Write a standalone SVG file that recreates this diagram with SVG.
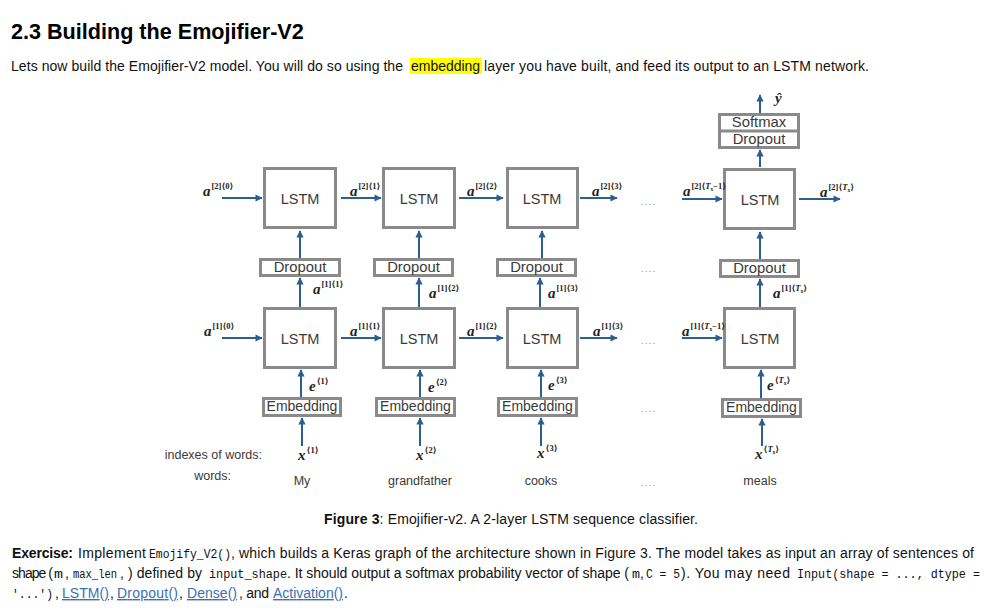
<svg xmlns="http://www.w3.org/2000/svg" width="1008" height="610" viewBox="0 0 1008 610">
<defs>
<marker id="ah" viewBox="0 0 10 10" refX="9" refY="5" markerWidth="4" markerHeight="3.6" orient="auto">
<path d="M0,0 L10,5 L0,10 z" fill="#2c5f8f"/>
</marker>
<style>
.body{font-family:"Liberation Sans",Arial,sans-serif;font-size:14px;fill:#111}
.mono{font-family:"Liberation Mono","Courier New",monospace;font-size:12.5px;fill:#111}
.link{fill:#3b6fb0;text-decoration:underline}
.box{fill:#fff;stroke:#8a8a8a;stroke-width:3}
.lbl{font-family:"Liberation Sans",Arial,sans-serif;fill:#3a3a3a;text-anchor:middle}
.big{font-size:14.5px}
.emb{font-size:14px}
.mid{font-size:14.8px}
.word{font-family:"Liberation Sans",Arial,sans-serif;font-size:12.5px;fill:#3a3a3a}
.math{font-family:"Liberation Serif","DejaVu Serif",serif;font-weight:bold;font-style:italic;font-size:15px;fill:#222}
.sup{font-size:8.5px;font-style:normal}
.sub{font-size:5.5px}
.dots{font-family:"Liberation Sans",Arial,sans-serif;font-size:10px;fill:#9a9a9a;letter-spacing:1px}
.arrow{stroke:#2c5f8f;stroke-width:2;fill:none;marker-end:url(#ah)}
</style>
</defs>
<rect width="1008" height="610" fill="#fff"/>

<!-- Header text -->
<text x="11" y="39" font-family="Liberation Sans, Arial, sans-serif" font-size="21.6" font-weight="bold" fill="#000">2.3 Building the Emojifier-V2</text>
<rect x="410" y="58" width="72" height="16" fill="#ffff00"/>
<text class="body" x="11" y="71" textLength="392" lengthAdjust="spacing">Lets now build the Emojifier-V2 model. You will do so using the</text>
<text class="body" x="411" y="71" textLength="69" lengthAdjust="spacing">embedding</text>
<text class="body" x="484" y="71" textLength="385" lengthAdjust="spacing">layer you have built, and feed its output to an LSTM network.</text>

<!-- Nodes: layer 2 LSTMs -->
<g id="lstm2-1"><rect class="box" x="264.5" y="168.5" width="71" height="59"/><text class="lbl big" x="300" y="204">LSTM</text></g>
<g id="lstm2-2"><rect class="box" x="383.5" y="168.5" width="71" height="59"/><text class="lbl big" x="419" y="204">LSTM</text></g>
<g id="lstm2-3"><rect class="box" x="507.5" y="168.5" width="70" height="59"/><text class="lbl big" x="542" y="204">LSTM</text></g>
<g id="lstm2-4"><rect class="box" x="724.5" y="169.5" width="70" height="59"/><text class="lbl big" x="760" y="205">LSTM</text></g>

<!-- Softmax / Dropout -->
<g id="softmax"><rect class="box" x="719.5" y="114.5" width="79" height="33"/><line x1="719.5" y1="131" x2="798.5" y2="131" stroke="#8a8a8a" stroke-width="3"/><text class="lbl mid" x="759" y="127">Softmax</text><text class="lbl mid" x="759" y="143.5">Dropout</text></g>

<!-- Dropout layer -->
<g id="dropout-1"><rect class="box" x="260.5" y="259.5" width="79" height="16"/><text class="lbl mid" x="300" y="272">Dropout</text></g>
<g id="dropout-2"><rect class="box" x="374.5" y="259.5" width="78" height="16"/><text class="lbl mid" x="413.5" y="272">Dropout</text></g>
<g id="dropout-3"><rect class="box" x="497.5" y="259.5" width="78" height="16"/><text class="lbl mid" x="536.5" y="272">Dropout</text></g>
<g id="dropout-4"><rect class="box" x="720.5" y="260.5" width="78" height="16"/><text class="lbl mid" x="759.5" y="273">Dropout</text></g>

<!-- layer 1 LSTMs -->
<g id="lstm1-1"><rect class="box" x="264.5" y="308.5" width="71" height="59"/><text class="lbl big" x="300" y="344">LSTM</text></g>
<g id="lstm1-2"><rect class="box" x="383.5" y="308.5" width="71" height="59"/><text class="lbl big" x="419" y="344">LSTM</text></g>
<g id="lstm1-3"><rect class="box" x="507.5" y="308.5" width="70" height="59"/><text class="lbl big" x="542" y="344">LSTM</text></g>
<g id="lstm1-4"><rect class="box" x="724.5" y="308.5" width="70" height="59"/><text class="lbl big" x="760" y="344">LSTM</text></g>

<!-- Embedding -->
<g id="emb-1"><rect class="box" x="263.5" y="398.5" width="77" height="17"/><text class="lbl emb" x="302" y="411">Embedding</text></g>
<g id="emb-2"><rect class="box" x="376.5" y="398.5" width="78" height="17"/><text class="lbl emb" x="415.5" y="411">Embedding</text></g>
<g id="emb-3"><rect class="box" x="498.5" y="398.5" width="78" height="17"/><text class="lbl emb" x="537.5" y="411">Embedding</text></g>
<g id="emb-4"><rect class="box" x="722.5" y="399.5" width="78" height="17"/><text class="lbl emb" x="761.5" y="412">Embedding</text></g>

<!-- Connectors -->
<g id="connectors">
<path class="arrow" d="M222,198 H262"/>
<path class="arrow" d="M341,198 H381"/>
<path class="arrow" d="M459,198 H503"/>
<path class="arrow" d="M580,198 H617"/>
<path class="arrow" d="M682,199 H722"/>
<path class="arrow" d="M799,199 H840"/>
<path class="arrow" d="M222,338 H262"/>
<path class="arrow" d="M341,338 H381"/>
<path class="arrow" d="M459,338 H503"/>
<path class="arrow" d="M580,338 H617"/>
<path class="arrow" d="M682,338 H722"/>
<path class="arrow" d="M300,258 V231"/>
<path class="arrow" d="M419,258 V231"/>
<path class="arrow" d="M542,258 V231"/>
<path class="arrow" d="M760,259 V232"/>
<path class="arrow" d="M300,307 V278"/>
<path class="arrow" d="M419,307 V278"/>
<path class="arrow" d="M540,307 V278"/>
<path class="arrow" d="M760,307 V279"/>
<path class="arrow" d="M301,397 V370"/>
<path class="arrow" d="M420,397 V370"/>
<path class="arrow" d="M541,397 V370"/>
<path class="arrow" d="M761,398 V370"/>
<path class="arrow" d="M302,446 V418"/>
<path class="arrow" d="M420,446 V418"/>
<path class="arrow" d="M541,446 V418"/>
<path class="arrow" d="M762,446 V419"/>
<path class="arrow" d="M760,167 V150"/>
<path class="arrow" d="M760,113 V95"/>
</g>

<!-- Math labels -->
<g id="labels">
<text class="math" x="775" y="103" font-weight="normal">ŷ</text>
<text class="math" x="203" y="196">a<tspan class="sup" dx="1" dy="-7">[2]⟨0⟩</tspan></text>
<text class="math" x="350" y="196">a<tspan class="sup" dx="1" dy="-7">[2]⟨1⟩</tspan></text>
<text class="math" x="467" y="196">a<tspan class="sup" dx="1" dy="-7">[2]⟨2⟩</tspan></text>
<text class="math" x="592" y="196">a<tspan class="sup" dx="1" dy="-7">[2]⟨3⟩</tspan></text>
<text class="math" x="683" y="196">a<tspan class="sup" dx="1" dy="-7">[2]⟨<tspan font-style="italic">T</tspan><tspan class="sub" dy="1.5">x</tspan><tspan dy="-1.5">−1⟩</tspan></tspan></text>
<text class="math" x="820" y="197">a<tspan class="sup" dx="1" dy="-7">[2]⟨<tspan font-style="italic">T</tspan><tspan class="sub" dy="1.5">x</tspan><tspan dy="-1.5">⟩</tspan></tspan></text>

<text class="math" x="313" y="294">a<tspan class="sup" dx="1" dy="-7">[1]⟨1⟩</tspan></text>
<text class="math" x="429" y="298">a<tspan class="sup" dx="1" dy="-7">[1]⟨2⟩</tspan></text>
<text class="math" x="548" y="298">a<tspan class="sup" dx="1" dy="-7">[1]⟨3⟩</tspan></text>
<text class="math" x="773" y="298">a<tspan class="sup" dx="1" dy="-7">[1]⟨<tspan font-style="italic">T</tspan><tspan class="sub" dy="1.5">x</tspan><tspan dy="-1.5">⟩</tspan></tspan></text>

<text class="math" x="204" y="336">a<tspan class="sup" dx="1" dy="-7">[1]⟨0⟩</tspan></text>
<text class="math" x="350" y="336">a<tspan class="sup" dx="1" dy="-7">[1]⟨1⟩</tspan></text>
<text class="math" x="467" y="336">a<tspan class="sup" dx="1" dy="-7">[1]⟨2⟩</tspan></text>
<text class="math" x="593" y="336">a<tspan class="sup" dx="1" dy="-7">[1]⟨3⟩</tspan></text>
<text class="math" x="682" y="336">a<tspan class="sup" dx="1" dy="-7">[1]⟨<tspan font-style="italic">T</tspan><tspan class="sub" dy="1.5">x</tspan><tspan dy="-1.5">−1⟩</tspan></tspan></text>

<text class="math" x="309" y="391">e<tspan class="sup" dx="1" dy="-7">⟨1⟩</tspan></text>
<text class="math" x="428" y="392">e<tspan class="sup" dx="1" dy="-7">⟨2⟩</tspan></text>
<text class="math" x="548" y="390">e<tspan class="sup" dx="1" dy="-7">⟨3⟩</tspan></text>
<text class="math" x="767" y="390">e<tspan class="sup" dx="1" dy="-7">⟨<tspan font-style="italic">T</tspan><tspan class="sub" dy="1.5">x</tspan><tspan dy="-1.5">⟩</tspan></tspan></text>

<text class="math" x="298" y="460">x<tspan class="sup" dx="1" dy="-7">⟨1⟩</tspan></text>
<text class="math" x="416" y="460">x<tspan class="sup" dx="1" dy="-7">⟨2⟩</tspan></text>
<text class="math" x="537" y="458">x<tspan class="sup" dx="1" dy="-7">⟨3⟩</tspan></text>
<text class="math" x="755" y="459">x<tspan class="sup" dx="1" dy="-7">⟨<tspan font-style="italic">T</tspan><tspan class="sub" dy="1.5">x</tspan><tspan dy="-1.5">⟩</tspan></tspan></text>

<text class="word" x="262" y="459" text-anchor="end">indexes of words:</text>
<text class="word" x="231" y="480" text-anchor="end">words:</text>
<text class="word" x="302" y="485" text-anchor="middle">My</text>
<text class="word" x="420" y="485" text-anchor="middle">grandfather</text>
<text class="word" x="541" y="485" text-anchor="middle">cooks</text>
<text class="word" x="760" y="485" text-anchor="middle">meals</text>

<text class="dots" x="641" y="205">....</text>
<text class="dots" x="641" y="272">....</text>
<text class="dots" x="641" y="344">....</text>
<text class="dots" x="641" y="412">....</text>
<text class="dots" x="641" y="486">....</text>
</g>

<!-- Caption and exercise -->
<text class="body" x="324" y="524" textLength="374" lengthAdjust="spacing"><tspan font-weight="bold">Figure 3</tspan>: Emojifier-v2. A 2-layer LSTM sequence classifier.</text>

<text class="body" x="12" y="558" font-weight="bold" textLength="61" lengthAdjust="spacing">Exercise:</text>
<text class="body" x="78" y="558" textLength="68" lengthAdjust="spacing">Implement</text>
<text class="mono" x="149" y="558" textLength="82" lengthAdjust="spacingAndGlyphs">Emojify_V2()</text>
<text class="body" x="231" y="558" textLength="743" lengthAdjust="spacing">, which builds a Keras graph of the architecture shown in Figure 3. The model takes as input an array of sentences of</text>

<text class="body" x="12" y="578" textLength="41" lengthAdjust="spacing">shape (</text>
<text class="mono" x="54" y="578" textLength="9" lengthAdjust="spacingAndGlyphs">m</text>
<text class="body" x="65" y="578">,</text>
<text class="mono" x="73" y="578" textLength="44" lengthAdjust="spacingAndGlyphs">max_len</text>
<text class="body" x="120" y="578" textLength="82" lengthAdjust="spacing">, ) defined by</text>
<text class="mono" x="209" y="578" textLength="78" lengthAdjust="spacingAndGlyphs">input_shape</text>
<text class="body" x="287" y="578" textLength="342" lengthAdjust="spacing">. It should output a softmax probability vector of shape (</text>
<text class="mono" x="632" y="578" textLength="8" lengthAdjust="spacingAndGlyphs">m</text>
<text class="body" x="640" y="578">,</text>
<text class="mono" x="646" y="578" textLength="34" lengthAdjust="spacingAndGlyphs">C = 5</text>
<text class="body" x="681" y="578" textLength="109" lengthAdjust="spacing">). You may need</text>
<text class="mono" x="797" y="578" textLength="183" lengthAdjust="spacingAndGlyphs">Input(shape = ..., dtype =</text>

<text class="mono" x="12" y="598" textLength="41" lengthAdjust="spacingAndGlyphs">'...')</text>
<text class="body" x="55" y="598">,</text>
<text class="body link" x="62" y="598" textLength="47" lengthAdjust="spacing">LSTM()</text>
<text class="body" x="110" y="598">,</text>
<text class="body link" x="117" y="598" textLength="61" lengthAdjust="spacing">Dropout()</text>
<text class="body" x="179" y="598">,</text>
<text class="body link" x="187" y="598" textLength="50" lengthAdjust="spacing">Dense()</text>
<text class="body" x="239" y="598" textLength="30" lengthAdjust="spacing">, and</text>
<text class="body link" x="273" y="598" textLength="70" lengthAdjust="spacing">Activation()</text>
<text class="body" x="344" y="598">.</text>
</svg>
